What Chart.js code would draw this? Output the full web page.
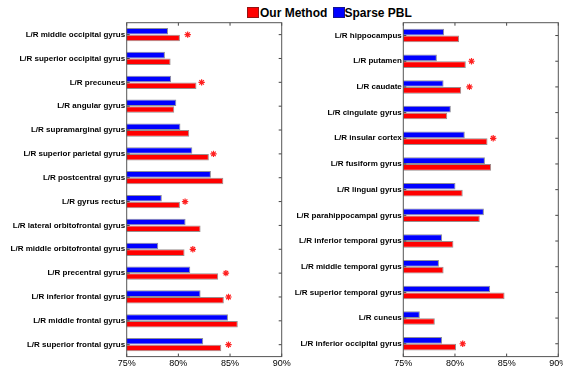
<!DOCTYPE html>
<html>
<head>
<meta charset="utf-8">
<script src="https://cdn.jsdelivr.net/npm/chart.js@4/dist/chart.umd.min.js"></script>
<style>
  html, body { margin: 0; padding: 0; background: #fff; overflow: hidden; }
  body { width: 563px; height: 368px; position: relative; font-family: "Liberation Sans", Arial, sans-serif; }
  canvas { position: absolute; top: 0; }
  #cLeft { left: 0; }
  #cRight { left: 290px; }
  .sw { position: absolute; top: 7px; width: 12px; height: 11px; box-sizing: border-box; border: 1px solid rgba(40,40,40,0.5); }
  .lt { position: absolute; top: 6px; font: bold 12px/14px "Liberation Sans", Arial, sans-serif; color: #000; white-space: nowrap; }
</style>
</head>
<body>
<div class="sw" style="left:247px;background:#ff0000"></div>
<div class="lt" style="left:260px">Our Method</div>
<div class="sw" style="left:332.5px;background:#0000ff"></div>
<div class="lt" style="left:344.5px">Sparse PBL</div>
<canvas id="cLeft" width="300" height="368"></canvas>
<canvas id="cRight" width="290" height="368"></canvas>
<script>
// Regions of the left panel (top to bottom)
const leftRegions = [
  'L/R middle occipital gyrus', 'L/R superior occipital gyrus', 'L/R precuneus',
  'L/R angular gyrus', 'L/R supramarginal gyrus', 'L/R superior parietal gyrus',
  'L/R postcentral gyrus', 'L/R gyrus rectus', 'L/R lateral orbitofrontal gyrus',
  'L/R middle orbitofrontal gyrus', 'L/R precentral gyrus', 'L/R inferior frontal gyrus',
  'L/R middle frontal gyrus', 'L/R superior frontal gyrus'
];
const leftSparsePBL = [79.0, 78.7, 79.3, 79.8, 80.2, 81.35, 83.15, 78.4, 80.7, 78.05, 81.15, 82.15, 84.8, 82.4];
const leftOurMethod = [80.15, 79.25, 81.75, 79.6, 81.05, 82.95, 84.35, 80.15, 82.15, 80.6, 83.85, 84.4, 85.75, 84.15];
// significance markers (null = no marker)
const leftSignif = [80.9, null, 82.25, null, null, 83.4, null, 80.65, null, 81.4, 84.6, 84.85, null, 84.85];

// Regions of the right panel (top to bottom)
const rightRegions = [
  'L/R hippocampus', 'L/R putamen', 'L/R caudate', 'L/R cingulate gyrus',
  'L/R insular cortex', 'L/R fusiform gyrus', 'L/R lingual gyrus',
  'L/R parahippocampal gyrus', 'L/R inferior temporal gyrus', 'L/R middle temporal gyrus',
  'L/R superior temporal gyrus', 'L/R cuneus', 'L/R inferior occipital gyrus'
];
const rightSparsePBL = [78.95, 78.25, 78.9, 79.6, 80.95, 82.9, 80.05, 82.8, 78.75, 78.45, 83.4, 76.6, 78.75];
const rightOurMethod = [80.4, 81.05, 80.6, 79.25, 83.15, 83.5, 80.75, 82.4, 79.85, 78.9, 84.8, 78.05, 80.1];
const rightSignif = [null, 81.6, 81.4, null, 83.7, null, null, null, null, null, null, null, 80.75];

const xTicks = [75, 80, 85, 90];

const FONT = "'Liberation Sans', Arial, sans-serif";

// box frame with inward-pointing tick marks
const boxAxes = {
  id: 'boxAxes',
  beforeDatasetsDraw(chart) {
    const { ctx, chartArea: a, scales: { x, y } } = chart;
    ctx.save();
    ctx.strokeStyle = '#444';
    ctx.lineWidth = 1;
    ctx.beginPath();
    xTicks.forEach(v => {
      const px = x.getPixelForValue(v);
      ctx.moveTo(px, a.top); ctx.lineTo(px, a.top + 3);
      ctx.moveTo(px, a.bottom); ctx.lineTo(px, a.bottom - 3);
    });
    chart.data.labels.forEach((_, i) => {
      const py = y.getPixelForValue(i);
      ctx.moveTo(a.left, py); ctx.lineTo(a.left + 3, py);
      ctx.moveTo(a.right, py); ctx.lineTo(a.right - 3, py);
    });
    ctx.stroke();
    ctx.restore();
  },
  afterDatasetsDraw(chart) {
    const { ctx, chartArea: a } = chart;
    ctx.save();
    ctx.strokeStyle = '#555';
    ctx.lineWidth = 1;
    ctx.strokeRect(a.left, a.top, a.right - a.left, a.bottom - a.top);
    ctx.restore();
  }
};

function makePanel(canvasId, regions, pbl, ours, signif, yAxisWidth, padRight, catPct) {
  const marks = [];
  signif.forEach((v, i) => { if (v !== null) marks.push({ x: v, y: regions[i] }); });
  return new Chart(document.getElementById(canvasId), {
    type: 'bar',
    data: {
      labels: regions,
      datasets: [
        {
          label: 'Sparse PBL', data: pbl,
          backgroundColor: '#0000ff', borderColor: 'rgba(50,50,70,0.55)', borderWidth: 1,
          categoryPercentage: catPct, barPercentage: 0.98
        },
        {
          label: 'Our Method', data: ours,
          backgroundColor: '#ff0000', borderColor: 'rgba(70,50,50,0.55)', borderWidth: 1,
          categoryPercentage: catPct, barPercentage: 0.98
        },
        {
          type: 'line', label: 'significant', data: marks, showLine: false,
          pointStyle: 'star', pointRadius: 3.2, pointBorderWidth: 1.2,
          borderColor: '#ff2020', backgroundColor: '#ff2020', indexAxis: 'y'
        }
      ]
    },
    options: {
      indexAxis: 'y',
      responsive: false,
      animation: false,
      layout: { padding: { top: 22.7, right: padRight, bottom: 0, left: 0 } },
      plugins: { legend: { display: false }, tooltip: { enabled: false } },
      scales: {
        x: {
          type: 'linear', min: 75, max: 90,
          afterBuildTicks(scale) { scale.ticks = xTicks.map(v => ({ value: v })); },
          afterFit(scale) { scale.height = 11.4; },
          grid: { display: false, drawTicks: false },
          border: { display: false },
          ticks: {
            padding: 1.5, color: '#000', maxRotation: 0, autoSkip: false,
            font: { family: FONT, size: 9 },
            callback: v => v + '%'
          }
        },
        y: {
          type: 'category',
          afterFit(scale) { scale.width = yAxisWidth; },
          grid: { display: false, drawTicks: false },
          border: { display: false },
          ticks: {
            padding: 1.5, color: '#000', autoSkip: false,
            font: { family: FONT, size: 8, weight: 'bold' }
          }
        }
      }
    },
    plugins: [boxAxes]
  });
}

makePanel('cLeft', leftRegions, leftSparsePBL, leftOurMethod, leftSignif, 126.7, 18.3, 0.56);
makePanel('cRight', rightRegions, rightSparsePBL, rightOurMethod, rightSignif, 113.3, 21.7, 0.53);
</script>
</body>
</html>
